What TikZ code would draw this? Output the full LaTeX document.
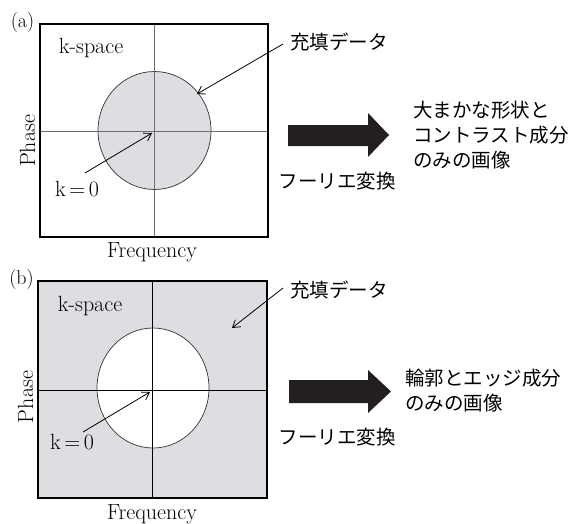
\documentclass[tikz,border=0pt]{standalone}
\usepackage{fontspec}
\newfontfamily\jp{Noto Sans CJK JP}
\usetikzlibrary{arrows.meta}
\definecolor{fillgray}{RGB}{221,222,225}
\definecolor{axgray}{RGB}{110,110,110}
\definecolor{arrowblack}{RGB}{35,31,32}
\tikzset{
  lat/.style={font=\fontsize{22}{26}\selectfont, inner sep=0pt, anchor=base},
  jptxt/.style={font=\jp\fontsize{19.5}{25}\selectfont, inner sep=0pt},
  frame/.style={draw=black, line width=1.1pt},
  axis/.style={line width=0.9pt},
  ring/.style={draw=black!80, line width=0.7pt},
  pointer/.style={line width=0.8pt, -{Straight Barb[length=7pt,width=9pt,line width=0.8pt]}},
  bigarrow/.style={fill=arrowblack, draw=none},
}
\begin{document}
\begin{tikzpicture}[x=1pt,y=-1pt]
\useasboundingbox (0,0) rectangle (579,523);
% ---------- panel (a)
\node[lat, font=\fontsize{20}{24}\selectfont] (la) at (22.5,27.5) {(a)};
\draw[ring, fill=fillgray] (154.5,130.5) ellipse [x radius=56.5, y radius=59];
\draw[axis, axgray] (154,24) -- (154,237);
\draw[axis, axgray] (40,131) -- (268,131);
\draw[frame] (40,24) rectangle (268,237);
\coordinate (oa) at (152,133);
\node[lat] (ksa) at (91,53) {k-space};
\node[lat, rotate=90] (pha) at (35,141) {Phase};
\node[lat] (fra) at (152,257) {Frequency};
\node[lat] (k0a) at (77,196) {k\,=\,0};
\coordinate (k0at) at (85,173);
\draw[pointer] (k0at) -- (oa);
\node[jptxt, anchor=west] (fda) at (290,42) {充填データ};
\coordinate (fdat) at (283,44);
\coordinate (fdah) at (197,94);
\draw[pointer] (fdat) -- (fdah);
\fill[bigarrow] (288,125) -- (368,125) -- (368,113) -- (389,135) -- (368,157) -- (368,146) -- (288,146) -- cycle;
\node[jptxt] (fta) at (337,181) {フーリエ変換};
\node[jptxt, anchor=west, align=left] (ra) at (413,135) {大まかな形状と\\コントラスト成分\\のみの画像};
% ---------- panel (b)
\node[lat, font=\fontsize{20}{24}\selectfont] (lb) at (21.5,284) {(b)};
\fill[fillgray] (38,281) rectangle (267,498);
\draw[ring, fill=white] (153,388) ellipse [x radius=56, y radius=60];
\draw[axis, black] (152,281) -- (152,498);
\draw[axis, black] (38,390) -- (267,390);
\draw[frame] (38,281) rectangle (267,498);
\coordinate (ob) at (150,392);
\node[lat] (ksb) at (90,311) {k-space};
\node[lat, rotate=90] (phb) at (33,397) {Phase};
\node[lat] (frb) at (152,519) {Frequency};
\node[lat] (k0b) at (72,449) {k\,=\,0};
\coordinate (k0bt) at (83,432);
\draw[pointer] (k0bt) -- (ob);
\node[jptxt, anchor=west] (fdb) at (290,290) {充填データ};
\coordinate (fdbt) at (283,288);
\coordinate (fdbh) at (232,328);
\draw[pointer] (fdbt) -- (fdbh);
\fill[bigarrow] (289,380) -- (368,380) -- (368,370) -- (391,391.5) -- (368,413) -- (368,403) -- (289,403) -- cycle;
\node[jptxt] (ftb) at (337,437) {フーリエ変換};
\node[jptxt, anchor=west, align=left] (rb) at (405,391) {輪郭とエッジ成分\\のみの画像};
\end{tikzpicture}
\end{document}
